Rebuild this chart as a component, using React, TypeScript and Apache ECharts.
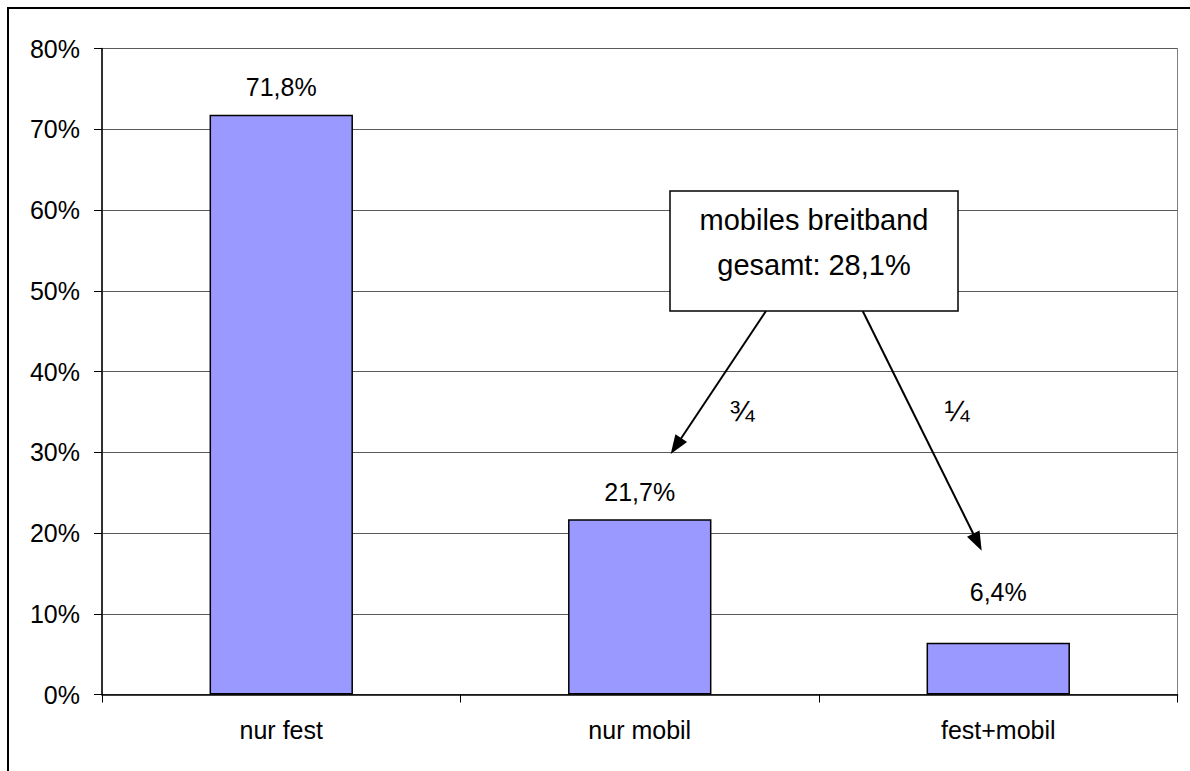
import React, { useEffect, useRef } from "react";
import * as echarts from "echarts";

const categories = ["nur fest", "nur mobil", "fest+mobil"];
const values = [71.8, 21.7, 6.4];
const labelDistances = [15, 15, 38];
const yMin = 0;
const yMax = 80;
const yInterval = 10;

const boxLines = ["mobiles breitband", "gesamt: 28,1%"];
const fractionLabels = ["¾", "¼"];

const FONT = "'Liberation Sans', Arial, sans-serif";

function arrowHead(x1: number, y1: number, x2: number, y2: number, len = 19, half = 7) {
  const dx = x2 - x1;
  const dy = y2 - y1;
  const d = Math.sqrt(dx * dx + dy * dy);
  const ux = dx / d;
  const uy = dy / d;
  const bx = x2 - ux * len;
  const by = y2 - uy * len;
  return [
    [x2, y2],
    [bx - uy * half, by + ux * half],
    [bx + uy * half, by - ux * half],
  ];
}

function arrow(x1: number, y1: number, x2: number, y2: number) {
  const pts = arrowHead(x1, y1, x2, y2);
  const ux = (x2 - x1) / Math.hypot(x2 - x1, y2 - y1);
  const uy = (y2 - y1) / Math.hypot(x2 - x1, y2 - y1);
  return [
    {
      type: "line",
      shape: { x1, y1, x2: x2 - ux * 12, y2: y2 - uy * 12 },
      style: { stroke: "#000", lineWidth: 2 },
      z: 100,
    },
    {
      type: "polygon",
      shape: { points: pts },
      style: { fill: "#000" },
      z: 100,
    },
  ];
}

export default function App() {
  const ref = useRef<HTMLDivElement>(null);

  useEffect(() => {
    if (!ref.current) return;
    const chart = echarts.init(ref.current, undefined, { renderer: "svg" });
    const option: any = {
      animation: false,
      backgroundColor: "#fff",
      grid: {
        left: 102,
        top: 48.5,
        right: 12.5,
        bottom: 76.5,
        show: true,
        borderColor: "#808080",
        borderWidth: 1,
        backgroundColor: "transparent",
      },
      xAxis: {
        type: "category",
        data: categories,
        boundaryGap: true,
        axisLine: { show: true, lineStyle: { color: "#000", width: 1.5 } },
        axisTick: { show: true, length: 8, inside: false, lineStyle: { color: "#000", width: 1 } },
        axisLabel: { color: "#000", fontSize: 25, fontFamily: FONT, margin: 23 },
        splitLine: { show: false },
      },
      yAxis: {
        type: "value",
        min: yMin,
        max: yMax,
        interval: yInterval,
        axisLine: { show: true, lineStyle: { color: "#000", width: 1.5 } },
        axisTick: { show: true, length: 8, lineStyle: { color: "#000", width: 1 } },
        axisLabel: {
          color: "#000",
          fontSize: 25,
          fontFamily: FONT,
          margin: 22,
          formatter: "{value}%",
        },
        splitLine: { show: true, lineStyle: { color: "#5a5a5a", width: 1 } },
      },
      series: [
        {
          type: "bar",
          barWidth: "40%",
          data: values.map((v, i) => ({ value: v, label: { distance: labelDistances[i] } })),
          itemStyle: { color: "#9999FF", borderColor: "#000", borderWidth: 1.5 },
          label: {
            show: true,
            position: "top",
            color: "#000",
            fontSize: 25,
            fontFamily: FONT,
            formatter: (p: any) => p.value.toFixed(1).replace(".", ",") + "%",
          },
        },
      ],
      graphic: [
        {
          type: "rect",
          shape: { x: 8, y: 8, width: 1200, height: 800 },
          style: { fill: "none", stroke: "#000", lineWidth: 2 },
          z: 100,
          silent: true,
        },
        ...arrow(766, 311, 670.7, 454),
        ...arrow(862.7, 311, 981.7, 550.7),
        {
          type: "rect",
          shape: { x: 670, y: 191, width: 288, height: 120 },
          style: { fill: "#fff", stroke: "#000", lineWidth: 1.5 },
          z: 101,
        },
        {
          type: "text",
          x: 814,
          y: 220,
          style: {
            text: boxLines[0],
            font: `29px ${FONT}`,
            fill: "#000",
            textAlign: "center",
            textVerticalAlign: "middle",
          },
          z: 102,
        },
        {
          type: "text",
          x: 814,
          y: 265,
          style: {
            text: boxLines[1],
            font: `29px ${FONT}`,
            fill: "#000",
            textAlign: "center",
            textVerticalAlign: "middle",
          },
          z: 102,
        },
        {
          type: "text",
          x: 742,
          y: 410,
          style: {
            text: fractionLabels[0],
            font: `30px ${FONT}`,
            fill: "#000",
            textAlign: "center",
            textVerticalAlign: "middle",
          },
          z: 102,
        },
        {
          type: "text",
          x: 957,
          y: 410,
          style: {
            text: fractionLabels[1],
            font: `30px ${FONT}`,
            fill: "#000",
            textAlign: "center",
            textVerticalAlign: "middle",
          },
          z: 102,
        },
      ],
    };
    chart.setOption(option);
    return () => chart.dispose();
  }, []);

  return (
    <div
      ref={ref}
      style={{ position: "fixed", left: 0, top: 0, width: 1190, height: 771, background: "#fff" }}
    />
  );
}
